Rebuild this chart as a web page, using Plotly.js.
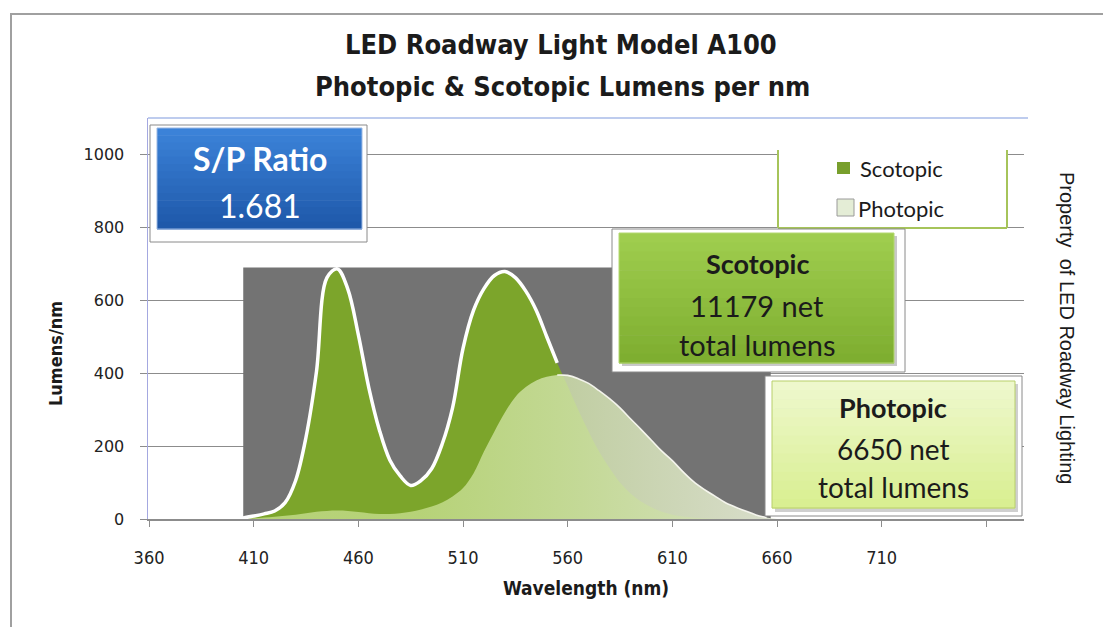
<!DOCTYPE html>
<html>
<head>
<meta charset="utf-8">
<script src="https://cdn.plot.ly/plotly-3.0.1.min.js"></script>
<style>html,body{margin:0;padding:0;background:#fff;}#chart{width:1103px;height:627px;}</style>
</head>
<body>
<div id="chart"></div>
<script>
// ---- data ----
const wavelength = [400,405,410,415,420,425,430,435,440,445,450,455,460,465,470,475,480,485,490,495,500,505,510,515,520,525,530,535,540,545,550,555,560,565,570,575,580,585,590,595,600,605,610,615,620,625,630,635,640,645,650,655,660];
const scotopic = [0,3,8,14,22,45,105,225,405,662,686,630,505,360,245,162,118,92,106,138,205,305,468,572,632,668,679,662,625,572,500,428,365,300,240,185,140,100,70,48,32,20,12,7,4,2,1,0,0,0,0,0,0];
const photopic = [0,1,2,4,6,9,12,16,20,22,23,22,19,16,14,14,16,20,26,34,45,62,85,125,185,240,292,335,362,380,390,395,394,385,372,352,330,305,275,246,216,186,160,130,103,82,64,46,33,22,11,4,0];
const xTickVals = [360,410,460,510,560,610,660,710,760];
const xTickText = ['360','410','460','510','560','610','660','710',''];
const yTickVals = [0,200,400,600,800,1000];
const seriesNames = ['Scotopic','Photopic'];
const spRatio = '1.681';
const scotopicTotal = '11179';
const photopicTotal = '6650';

// outline only where each curve is on top
const scotLine = scotopic.map((v,i)=> v >= photopic[i] ? v : null);
const photLine = photopic.map((v,i)=> (v > scotopic[i] || (i+1 < photopic.length && photopic[i+1] > scotopic[i+1])) ? v : null);

// ---- pixel helpers for decoration (plot area 148..1024 x 118..519) ----
const L=148, R=1024, T=118, B=519;
const X = px => (px - L) / (R - L);
const Y = py => (B - py) / (B - T);

const traces = [
  {x: wavelength, y: scotopic, name: seriesNames[0], type:'scatter', mode:'lines',
   line:{width:0, shape:'spline', color:'#7aa32a'}, fill:'tozeroy', fillcolor:'#7ca52b', showlegend:false, hoverinfo:'x+y'},
  {x: wavelength, y: photopic, name: seriesNames[1], type:'scatter', mode:'lines',
   line:{width:0, shape:'spline', color:'#dfe6cf'}, fill:'tozeroy',
   fillgradient:{type:'horizontal', start:490, stop:660,
     colorscale:[[0,'rgba(205,228,150,0.72)'],[0.45,'rgba(214,230,178,0.8)'],[1,'rgba(226,231,212,0.92)']]},
   showlegend:false, hoverinfo:'x+y'},
  {x: wavelength, y: scotLine, type:'scatter', mode:'lines', connectgaps:false,
   line:{width:3.5, shape:'spline', color:'#ffffff'}, showlegend:false, hoverinfo:'skip'},
  {x: wavelength, y: photLine, type:'scatter', mode:'lines', connectgaps:false,
   line:{width:1.6, shape:'spline', color:'rgba(248,248,240,0.95)'}, showlegend:false, hoverinfo:'skip'}
];

function rectPx(x0,y0,x1,y1,fill,lineColor,lineWidth){
  return {type:'rect', xref:'paper', yref:'paper', x0:X(x0), x1:X(x1), y0:Y(y1), y1:Y(y0),
          fillcolor:fill, line:{color:lineColor||'rgba(0,0,0,0)', width:lineWidth||0}, layer:'above'};
}
function linePx(x0,y0,x1,y1,color,width){
  return {type:'line', xref:'paper', yref:'paper', x0:X(x0), x1:X(x1), y0:Y(y0), y1:Y(y1),
          line:{color:color, width:width||1}, layer:'above'};
}
function hex2rgb(h){ return [parseInt(h.slice(1,3),16), parseInt(h.slice(3,5),16), parseInt(h.slice(5,7),16)]; }
// vertical gradient box made of thin bands
function gradBox(x0,y0,x1,y1,top,bottom,border,n){
  const a = hex2rgb(top), b = hex2rgb(bottom), out = [];
  const h = (y1 - y0) / n;
  for (let k = 0; k < n; k++){
    const t = n === 1 ? 0 : k / (n - 1);
    const c = a.map((v,j)=> Math.round(v + (b[j]-v)*t));
    out.push(rectPx(x0, y0 + k*h, x1, y0 + (k+1)*h + 0.6, 'rgb('+c.join(',')+')', null, 0));
  }
  out.push(rectPx(x0,y0,x1,y1,'rgba(0,0,0,0)',border,1));
  return out;
}

const shapes = [
  // outer chart frame
  {type:'rect', xref:'paper', yref:'paper', x0:X(11), x1:X(1112), y0:Y(640), y1:Y(14),
   fillcolor:'rgba(0,0,0,0)', line:{color:'#a0a0a0', width:2}, layer:'below'},
  // top border of plot area
  {type:'line', xref:'paper', yref:'paper', x0:0, x1:X(1028), y0:1, y1:1, line:{color:'#a9bbe8', width:1.5}},
  // dark inner plot panel
  {type:'rect', xref:'x', yref:'y', x0:405, x1:657, y0:0, y1:690, fillcolor:'#737373', line:{width:0}, layer:'between'},
  // S/P ratio box
  rectPx(150,125,367,242,'#ffffff','#8a8a8a',1),
  ...gradBox(157,128,362,229,'#3b82d8','#1f59aa','#9ab8e4',14),
  // legend box
  rectPx(778,150,1007,228,'#ffffff',null,0),
  linePx(778,150,778,228,'#a6c45a',2),
  linePx(1007,150,1007,228,'#a6c45a',2),
  linePx(778,228,1007,228,'#a6c45a',2),
  rectPx(837,162,850,174,'#789f2c',null,0),
  rectPx(837,199,854,216,'#e4edd6','#9a9a9a',1),
  // scotopic totals box
  rectPx(612,229,905,372,'#ffffff','#8a8a8a',1),
  rectPx(622,236,897,366,'#c8c8c8',null,0),
  ...gradBox(619,233,894,363,'#9fcd4e','#7eae30','#b4d870',14),
  // photopic totals box
  rectPx(765,376,1022,516,'#ffffff','#8a8a8a',1),
  rectPx(775,384,1018,512,'#cfcfcf',null,0),
  ...gradBox(772,381,1015,508,'#eef8cc','#d9ef92','#b8cf6a',14)
];

const dark = '#1b1b1b';
const narrow = '"Liberation Sans Narrow", "DejaVu Sans Condensed", "Arial Narrow", sans-serif';
const body = 'Lato, "Open Sans", sans-serif';
function ann(px,py,text,size,color,family,opts){
  return Object.assign({xref:'paper', yref:'paper', x:X(px), y:Y(py), text:text, showarrow:false,
    xanchor:'center', yanchor:'middle', font:{size:size, color:color, family:family}}, opts||{});
}

const annotations = [
  ann(561,45,'<b>LED Roadway Light Model A100</b>',27,dark,narrow),
  ann(562,86,'<b>Photopic &amp; Scotopic Lumens per nm</b>',27,dark,narrow),
  ann(55,354,'<b>Lumens/nm</b>',18,dark,narrow,{textangle:-90}),
  ann(1067,328,'Property  of LED Roadway Lighting',20,dark,'"Liberation Sans", Arial, sans-serif',{textangle:90}),
  ann(260,158,'<b>S/P Ratio</b>',32,'#ffffff',body),
  ann(260,205,spRatio,32,'#ffffff',body),
  ann(858,168,seriesNames[0],22,dark,body,{xanchor:'left'}),
  ann(856,208,seriesNames[1],22,dark,body,{xanchor:'left'}),
  ann(757,263,'<b>Scotopic</b>',27,dark,body),
  ann(757,305,scotopicTotal + ' net',29,dark,body),
  ann(757,344,'total lumens',29,dark,body),
  ann(893,407,'<b>Photopic</b>',27,dark,body),
  ann(893,449,photopicTotal + ' net',28,dark,body),
  ann(893,487,'total lumens',28,dark,body)
];

const layout = {
  width:1103, height:627,
  margin:{l:L, r:1103-R, t:T, b:627-B, pad:0},
  paper_bgcolor:'#ffffff', plot_bgcolor:'#ffffff',
  showlegend:false,
  xaxis:{range:[359.5,778], tickvals:xTickVals, ticktext:xTickText, showgrid:false, zeroline:false,
    showline:true, linecolor:'#8c8c8c', linewidth:1.5, ticks:'outside', ticklen:6, tickcolor:'#8c8c8c',
    tickfont:{family:narrow, size:18, color:'#222'}, ticklabelstandoff:16,
    title:{text:'<b>Wavelength (nm)</b>', font:{family:narrow, size:19, color:dark}, standoff:14}},
  yaxis:{range:[0,1100], tickvals:yTickVals, showgrid:true, gridcolor:'#8c8c8c', gridwidth:1, zeroline:false,
    showline:true, linecolor:'#a4a8e0', linewidth:1.5, ticks:'outside', ticklen:7, tickcolor:'#8c8c8c',
    tickfont:{family:'"DejaVu Sans", Verdana, sans-serif', size:16, color:'#222'}, ticklabelstandoff:12},
  shapes:shapes,
  annotations:annotations
};

Plotly.newPlot('chart', traces, layout, {displayModeBar:false, staticPlot:true});
</script>
</body>
</html>
